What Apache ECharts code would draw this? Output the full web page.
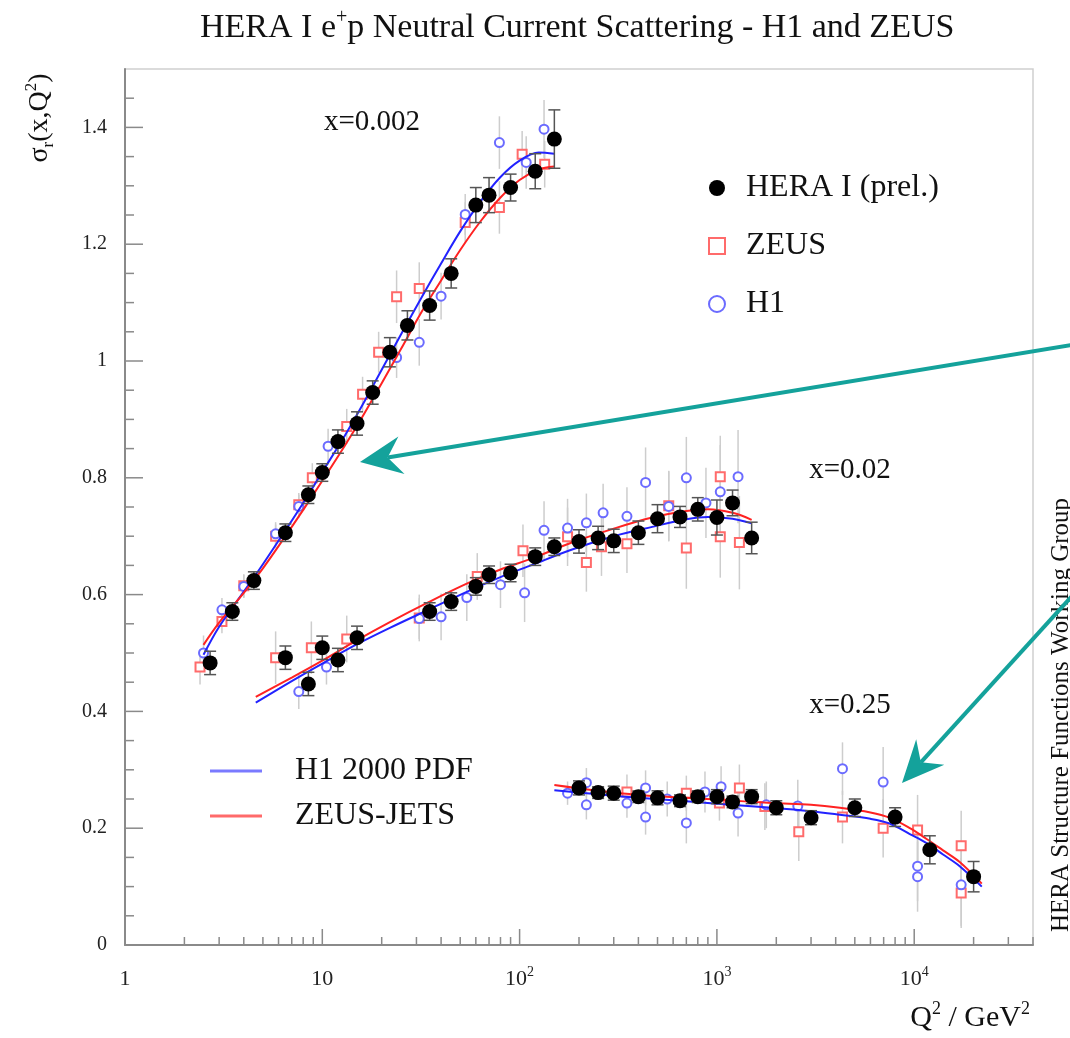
<!DOCTYPE html>
<html>
<head>
<meta charset="utf-8">
<title>HERA I e+p Neutral Current Scattering</title>
<script src="https://cdn.jsdelivr.net/npm/echarts@6.0.0/dist/echarts.min.js"></script>
<style>
  html, body { margin: 0; padding: 0; background: #fff; }
  #chart { width: 1070px; height: 1038px; }
</style>
</head>
<body>
<div id="chart"></div>
<script>
// values: Q^2 in GeV^2, reduced cross section sigma_r
// ---- x = 0.002 ----
var heraQ2_a = [2.7, 3.5, 4.5, 6.5, 8.5, 10, 12, 15, 18, 22, 27, 35, 45, 60, 70, 90, 120, 150];
var heraS_a  = [0.483, 0.571, 0.624, 0.706, 0.771, 0.809, 0.862, 0.893, 0.946, 1.015, 1.061, 1.095, 1.150, 1.267, 1.284, 1.297, 1.325, 1.380];
var heraE_a  = [0.02, 0.015, 0.015, 0.015, 0.015, 0.015, 0.02, 0.02, 0.02, 0.025, 0.025, 0.025, 0.025, 0.03, 0.03, 0.023, 0.03, 0.05];
var zeusQ2_a = [2.4, 3.1, 4.0, 5.8, 7.6, 8.9, 13.3, 16, 19.3, 23.8, 31, 53, 79, 103, 134];
var zeusS_a  = [0.476, 0.554, 0.615, 0.700, 0.754, 0.800, 0.888, 0.943, 1.015, 1.110, 1.124, 1.237, 1.263, 1.354, 1.337];
var zeusE_a  = [0.03, 0.02, 0.02, 0.02, 0.02, 0.025, 0.03, 0.03, 0.035, 0.045, 0.045, 0.035, 0.045, 0.04, 0.04];
var h1Q2_a   = [2.5, 3.1, 4.0, 5.8, 7.6, 10.7, 23.8, 31, 40, 53, 79, 108, 133];
var h1S_a    = [0.500, 0.574, 0.614, 0.704, 0.751, 0.854, 1.006, 1.032, 1.111, 1.251, 1.374, 1.340, 1.397];
var h1E_a    = [0.03, 0.02, 0.02, 0.02, 0.02, 0.03, 0.035, 0.04, 0.04, 0.035, 0.045, 0.045, 0.05];
var curveQ2_a = [2.5, 3, 4, 5, 6.5, 8, 10, 13, 16, 20, 25, 32, 40, 50, 63, 80, 100, 125, 150];
var h1pdf_a   = [0.497, 0.545, 0.605, 0.652, 0.710, 0.757, 0.810, 0.872, 0.925, 0.985, 1.045, 1.110, 1.167, 1.222, 1.272, 1.315, 1.343, 1.357, 1.355];
var zjets_a   = [0.514, 0.552, 0.603, 0.645, 0.700, 0.745, 0.795, 0.855, 0.905, 0.962, 1.020, 1.085, 1.138, 1.190, 1.238, 1.280, 1.310, 1.328, 1.333];

// ---- x = 0.02 ----
var heraQ2_b = [6.5, 8.5, 10, 12, 15, 35, 45, 60, 70, 90, 120, 150, 200, 250, 300, 400, 500, 650, 800, 1000, 1200, 1500];
var heraS_b  = [0.492, 0.447, 0.509, 0.488, 0.526, 0.571, 0.588, 0.614, 0.634, 0.637, 0.665, 0.682, 0.691, 0.697, 0.692, 0.706, 0.730, 0.733, 0.746, 0.732, 0.757, 0.697];
var heraE_b  = [0.02, 0.02, 0.02, 0.02, 0.02, 0.015, 0.015, 0.015, 0.015, 0.015, 0.015, 0.015, 0.02, 0.02, 0.02, 0.02, 0.024, 0.018, 0.02, 0.03, 0.022, 0.027];
var zeusQ2_b = [5.8, 8.8, 13.3, 31, 61, 104, 175, 218, 260, 350, 570, 700, 1040, 1040, 1300];
var zeusS_b  = [0.492, 0.509, 0.524, 0.560, 0.631, 0.675, 0.699, 0.655, 0.682, 0.687, 0.752, 0.680, 0.802, 0.699, 0.689];
var zeusE_b  = [0.045, 0.045, 0.04, 0.04, 0.04, 0.045, 0.05, 0.05, 0.05, 0.05, 0.06, 0.07, 0.07, 0.07, 0.08];
var h1Q2_b   = [7.6, 10.5, 31, 40, 54, 80, 106, 133, 175, 218, 265, 350, 435, 570, 700, 880, 1040, 1280];
var h1S_b    = [0.434, 0.476, 0.559, 0.562, 0.595, 0.617, 0.603, 0.710, 0.714, 0.723, 0.740, 0.734, 0.792, 0.751, 0.800, 0.757, 0.776, 0.802];
var h1E_b    = [0.03, 0.03, 0.035, 0.04, 0.04, 0.04, 0.05, 0.05, 0.05, 0.05, 0.05, 0.05, 0.06, 0.06, 0.07, 0.06, 0.08, 0.08];
var curveQ2_b = [4.6, 7, 10, 15, 22, 35, 55, 80, 116, 180, 300, 470, 700, 900, 1200, 1500];
var h1pdf_b   = [0.415, 0.452, 0.482, 0.515, 0.543, 0.575, 0.606, 0.630, 0.651, 0.676, 0.700, 0.716, 0.729, 0.733, 0.730, 0.722];
var zjets_b   = [0.425, 0.458, 0.487, 0.522, 0.553, 0.588, 0.620, 0.643, 0.662, 0.688, 0.713, 0.732, 0.743, 0.746, 0.740, 0.728];

// ---- x = 0.25 ----
var heraQ2_c = [200, 250, 300, 400, 500, 650, 800, 1000, 1200, 1500, 2000, 3000, 5000, 8000, 12000, 20000];
var heraS_c  = [0.269, 0.261, 0.260, 0.254, 0.252, 0.247, 0.254, 0.254, 0.245, 0.254, 0.235, 0.218, 0.235, 0.219, 0.163, 0.117];
var heraE_c  = [0.012, 0.01, 0.012, 0.01, 0.012, 0.01, 0.01, 0.012, 0.01, 0.012, 0.012, 0.012, 0.015, 0.016, 0.024, 0.026];
var zeusQ2_c = [350, 700, 1030, 1300, 1750, 2600, 4330, 6960, 10400, 17300, 17300];
var zeusS_c  = [0.262, 0.260, 0.243, 0.269, 0.237, 0.194, 0.219, 0.200, 0.197, 0.170, 0.089];
var zeusE_c  = [0.03, 0.03, 0.03, 0.04, 0.04, 0.05, 0.045, 0.05, 0.06, 0.06, 0.06];
var h1Q2_c   = [175, 218, 218, 350, 435, 435, 560, 700, 870, 1050, 1280, 1780, 2570, 4330, 6960, 10400, 10400, 17300];
var h1S_c    = [0.260, 0.240, 0.278, 0.243, 0.269, 0.219, 0.250, 0.209, 0.262, 0.271, 0.226, 0.240, 0.238, 0.302, 0.279, 0.135, 0.117, 0.103];
var h1E_c    = [0.02, 0.025, 0.025, 0.025, 0.03, 0.03, 0.03, 0.035, 0.035, 0.035, 0.04, 0.04, 0.045, 0.045, 0.06, 0.06, 0.06, 0.07];
var curveQ2_c = [150, 250, 400, 700, 1000, 1900, 3000, 4200, 6000, 7500, 9500, 11500, 14000, 17000, 22000];
var h1pdf_c   = [0.265, 0.258, 0.252, 0.246, 0.242, 0.235, 0.229, 0.223, 0.216, 0.208, 0.190, 0.175, 0.155, 0.135, 0.100];
var zjets_c   = [0.274, 0.264, 0.257, 0.252, 0.249, 0.243, 0.240, 0.235, 0.227, 0.218, 0.200, 0.182, 0.162, 0.142, 0.105];

// axis ticks
var xMajorTicks = [1, 10, 100, 1000, 10000];
var xMinorMults = [2, 3, 4, 5, 6, 7, 8, 9];
var yMajorTicks = [0, 0.2, 0.4, 0.6, 0.8, 1.0, 1.2, 1.4];
var yMinorStep = 0.05;

var SERIF = 'Liberation Serif, Times New Roman, serif';
var TEAL = '#14a29b';

function pts(q, s) { return q.map(function (v, i) { return [v, s[i]]; }); }
function bars(q, s, e) { return q.map(function (v, i) { return [v, s[i] - e[i], s[i] + e[i]]; }); }

var xTickData = [];
xMajorTicks.forEach(function (d) {
  xTickData.push([d, 0, 16]);
  xMinorMults.forEach(function (m) { if (d * m <= 40000) xTickData.push([d * m, 0, 8]); });
});
var yTickData = [];
for (var k = 0; k * yMinorStep < 1.49; k++) {
  var yv = +(k * yMinorStep).toFixed(2);
  yTickData.push([1, yv, yMajorTicks.indexOf(yv) >= 0 ? 18 : 9]);
}

function errRender(cap, color, width) {
  return function (params, api) {
    var lo = api.coord([api.value(0), api.value(1)]);
    var hi = api.coord([api.value(0), api.value(2)]);
    var st = { stroke: color, lineWidth: width };
    var ch = [{ type: 'line', shape: { x1: lo[0], y1: lo[1], x2: hi[0], y2: hi[1] }, style: st }];
    if (cap) {
      ch.push({ type: 'line', shape: { x1: lo[0] - cap, y1: lo[1], x2: lo[0] + cap, y2: lo[1] }, style: st });
      ch.push({ type: 'line', shape: { x1: hi[0] - cap, y1: hi[1], x2: hi[0] + cap, y2: hi[1] }, style: st });
    }
    return { type: 'group', children: ch };
  };
}

function arrow(tail, tip) {
  var dx = tail[0] - tip[0], dy = tail[1] - tip[1];
  var L = Math.sqrt(dx * dx + dy * dy);
  var d = [dx / L, dy / L], n = [-d[1], d[0]];
  var back = 42, half = 19, notch = 28;
  var w1 = [tip[0] + back * d[0] + half * n[0], tip[1] + back * d[1] + half * n[1]];
  var w2 = [tip[0] + back * d[0] - half * n[0], tip[1] + back * d[1] - half * n[1]];
  var nc = [tip[0] + notch * d[0], tip[1] + notch * d[1]];
  return [
    { type: 'line', shape: { x1: tail[0], y1: tail[1], x2: nc[0], y2: nc[1] }, style: { stroke: TEAL, lineWidth: 4 }, z: 50 },
    { type: 'polygon', shape: { points: [tip, w1, nc, w2] }, style: { fill: TEAL }, z: 50 }
  ];
}

var chart = echarts.init(document.getElementById('chart'));

var lineSeries = [];
[[curveQ2_a, h1pdf_a, zjets_a], [curveQ2_b, h1pdf_b, zjets_b], [curveQ2_c, h1pdf_c, zjets_c]].forEach(function (c) {
  lineSeries.push({
    name: 'H1 2000 PDF', type: 'line', data: pts(c[0], c[1]), smooth: 0.35, showSymbol: false, symbol: 'none',
    lineStyle: { color: '#2222ff', width: 2 }, itemStyle: { color: '#2222ff' }, z: 3, silent: true
  });
  lineSeries.push({
    name: 'ZEUS-JETS', type: 'line', data: pts(c[0], c[2]), smooth: 0.35, showSymbol: false, symbol: 'none',
    lineStyle: { color: '#ff2222', width: 2 }, itemStyle: { color: '#ff2222' }, z: 3, silent: true
  });
});

var option = {
  backgroundColor: '#fff',
  animation: false,
  title: {
    text: 'HERA I e{sup|+}p Neutral Current Scattering - H1 and ZEUS',
    left: 200, top: 8, padding: 0,
    textStyle: {
      fontFamily: SERIF, fontSize: 34, fontWeight: 'normal', color: '#111', lineHeight: 40,
      rich: { sup: { fontFamily: SERIF, fontSize: 20, verticalAlign: 'top', lineHeight: 20, color: '#111' } }
    }
  },
  grid: {
    left: 125, right: 37, top: 69, bottom: 93,
    show: true, borderColor: '#cfcfcf', borderWidth: 1.5,
    outerBoundsMode: 'none'
  },
  legend: [
    {
      data: ['HERA I (prel.)', 'ZEUS', 'H1'],
      orient: 'vertical', left: 708, top: 172, padding: 0,
      itemWidth: 16, itemHeight: 16, itemGap: 26, selectedMode: false,
      textStyle: { fontFamily: SERIF, fontSize: 32, color: '#111', lineHeight: 32, padding: [0, 0, 0, 16] }
    },
    {
      data: [
        { name: 'H1 2000 PDF', icon: 'rect', itemStyle: { color: '#7a7aff' } },
        { name: 'ZEUS-JETS', icon: 'rect', itemStyle: { color: '#ff6a6a' } }
      ],
      orient: 'vertical', left: 210, top: 755, padding: 0,
      itemWidth: 52, itemHeight: 3, itemGap: 13, selectedMode: false,
      textStyle: { fontFamily: SERIF, fontSize: 32, color: '#111', lineHeight: 32, padding: [0, 0, 0, 28] }
    }
  ],
  xAxis: {
    type: 'log', logBase: 10, min: 1, max: 40000,
    splitLine: { show: false },
    axisTick: { show: false },
    axisLine: { show: true, lineStyle: { color: '#8a8a8a', width: 2 } },
    axisLabel: {
      margin: 20, fontFamily: SERIF, fontSize: 22, color: '#222', lineHeight: 28,
      formatter: function (v) {
        var e = Math.round(Math.log10(v));
        if (Math.abs(Math.pow(10, e) - v) > 1e-6 * v) return '';
        if (e === 0) return '1';
        if (e === 1) return '10';
        return '10{sup|' + e + '}';
      },
      rich: { sup: { fontFamily: SERIF, fontSize: 14, color: '#222', verticalAlign: 'top', lineHeight: 14 } }
    }
  },
  yAxis: {
    type: 'value', min: 0, max: 1.5, interval: 0.2,
    splitLine: { show: false },
    axisTick: { show: false },
    axisLine: { show: true, onZero: false, lineStyle: { color: '#8a8a8a', width: 2 } },
    axisLabel: {
      margin: 18, fontFamily: SERIF, fontSize: 20, color: '#222',
      formatter: function (v) { return v > 1.41 ? '' : String(+v.toFixed(1)); }
    }
  },
  series: lineSeries.concat([
    {
      name: 'xticks', type: 'custom', silent: true, clip: false, z: 6,
      encode: { x: 0, y: 1 }, data: xTickData,
      renderItem: function (params, api) {
        var p = api.coord([api.value(0), api.value(1)]);
        return { type: 'line', shape: { x1: p[0], y1: p[1], x2: p[0], y2: p[1] - api.value(2) },
          style: { stroke: '#8a8a8a', lineWidth: 1.5 } };
      }
    },
    {
      name: 'yticks', type: 'custom', silent: true, clip: false, z: 6,
      encode: { x: 0, y: 1 }, data: yTickData,
      renderItem: function (params, api) {
        var p = api.coord([api.value(0), api.value(1)]);
        return { type: 'line', shape: { x1: p[0], y1: p[1], x2: p[0] + api.value(2), y2: p[1] },
          style: { stroke: '#8a8a8a', lineWidth: 1.5 } };
      }
    },
    {
      name: 'zeusErr', type: 'custom', silent: true, z: 1, encode: { x: 0, y: [1, 2] },
      data: bars(zeusQ2_a, zeusS_a, zeusE_a).concat(bars(zeusQ2_b, zeusS_b, zeusE_b), bars(zeusQ2_c, zeusS_c, zeusE_c)),
      renderItem: errRender(0, '#cdcdcd', 1.5)
    },
    {
      name: 'h1Err', type: 'custom', silent: true, z: 1, encode: { x: 0, y: [1, 2] },
      data: bars(h1Q2_a, h1S_a, h1E_a).concat(bars(h1Q2_b, h1S_b, h1E_b), bars(h1Q2_c, h1S_c, h1E_c)),
      renderItem: errRender(0, '#cdcdcd', 1.5)
    },
    {
      name: 'ZEUS', type: 'scatter', symbol: 'emptyRect', symbolSize: 9, z: 2,
      itemStyle: { color: '#ff6b6b', opacity: 1 },
      data: pts(zeusQ2_a, zeusS_a).concat(pts(zeusQ2_b, zeusS_b), pts(zeusQ2_c, zeusS_c))
    },
    {
      name: 'H1', type: 'scatter', symbol: 'emptyCircle', symbolSize: 9, z: 2,
      itemStyle: { color: '#6b6bff', opacity: 1 },
      data: pts(h1Q2_a, h1S_a).concat(pts(h1Q2_b, h1S_b), pts(h1Q2_c, h1S_c))
    },
    {
      name: 'heraErr', type: 'custom', silent: true, z: 4, encode: { x: 0, y: [1, 2] },
      data: bars(heraQ2_a, heraS_a, heraE_a).concat(bars(heraQ2_b, heraS_b, heraE_b), bars(heraQ2_c, heraS_c, heraE_c)),
      renderItem: errRender(6, '#555', 1.5)
    },
    {
      name: 'HERA I (prel.)', type: 'scatter', symbol: 'circle', symbolSize: 15, z: 5,
      itemStyle: { color: '#000', opacity: 1 },
      data: pts(heraQ2_a, heraS_a).concat(pts(heraQ2_b, heraS_b), pts(heraQ2_c, heraS_c))
    }
  ]),
  graphic: [
    {
      type: 'text', x: 40, y: 118, rotation: Math.PI / 2, z: 20,
      style: {
        text: '{b|σ}{sub|r}{b|(x,Q}{sup|2}{b|)}', align: 'center', verticalAlign: 'middle',
        rich: {
          b: { fontFamily: SERIF, fontSize: 28, lineHeight: 34, fill: '#111' },
          sub: { fontFamily: SERIF, fontSize: 17, lineHeight: 17, verticalAlign: 'bottom', fill: '#111' },
          sup: { fontFamily: SERIF, fontSize: 17, lineHeight: 17, verticalAlign: 'top', fill: '#111' }
        }
      }
    },
    {
      type: 'text', x: 1030, y: 1018, z: 20,
      style: {
        text: '{b|Q}{sup|2}{b| / GeV}{sup|2}', align: 'right', verticalAlign: 'middle',
        rich: {
          b: { fontFamily: SERIF, fontSize: 30, lineHeight: 36, fill: '#111' },
          sup: { fontFamily: SERIF, fontSize: 18, lineHeight: 18, verticalAlign: 'top', fill: '#111' }
        }
      }
    },
    {
      type: 'text', x: 1061, y: 715, rotation: Math.PI / 2, z: 20,
      style: { text: 'HERA Structure Functions Working Group', fontFamily: SERIF, fontSize: 25,
        fill: '#111', align: 'center', verticalAlign: 'middle' }
    },
    { type: 'text', x: 372, y: 122, z: 20, style: { text: 'x=0.002', fontFamily: SERIF, fontSize: 29, fill: '#111', align: 'center', verticalAlign: 'middle' } },
    { type: 'text', x: 850, y: 470, z: 20, style: { text: 'x=0.02', fontFamily: SERIF, fontSize: 29, fill: '#111', align: 'center', verticalAlign: 'middle' } },
    { type: 'text', x: 850, y: 705, z: 20, style: { text: 'x=0.25', fontFamily: SERIF, fontSize: 29, fill: '#111', align: 'center', verticalAlign: 'middle' } }
  ].concat(arrow([1072, 345], [360, 462]), arrow([1072, 596], [902, 783]))
};

chart.setOption(option);
</script>
</body>
</html>
